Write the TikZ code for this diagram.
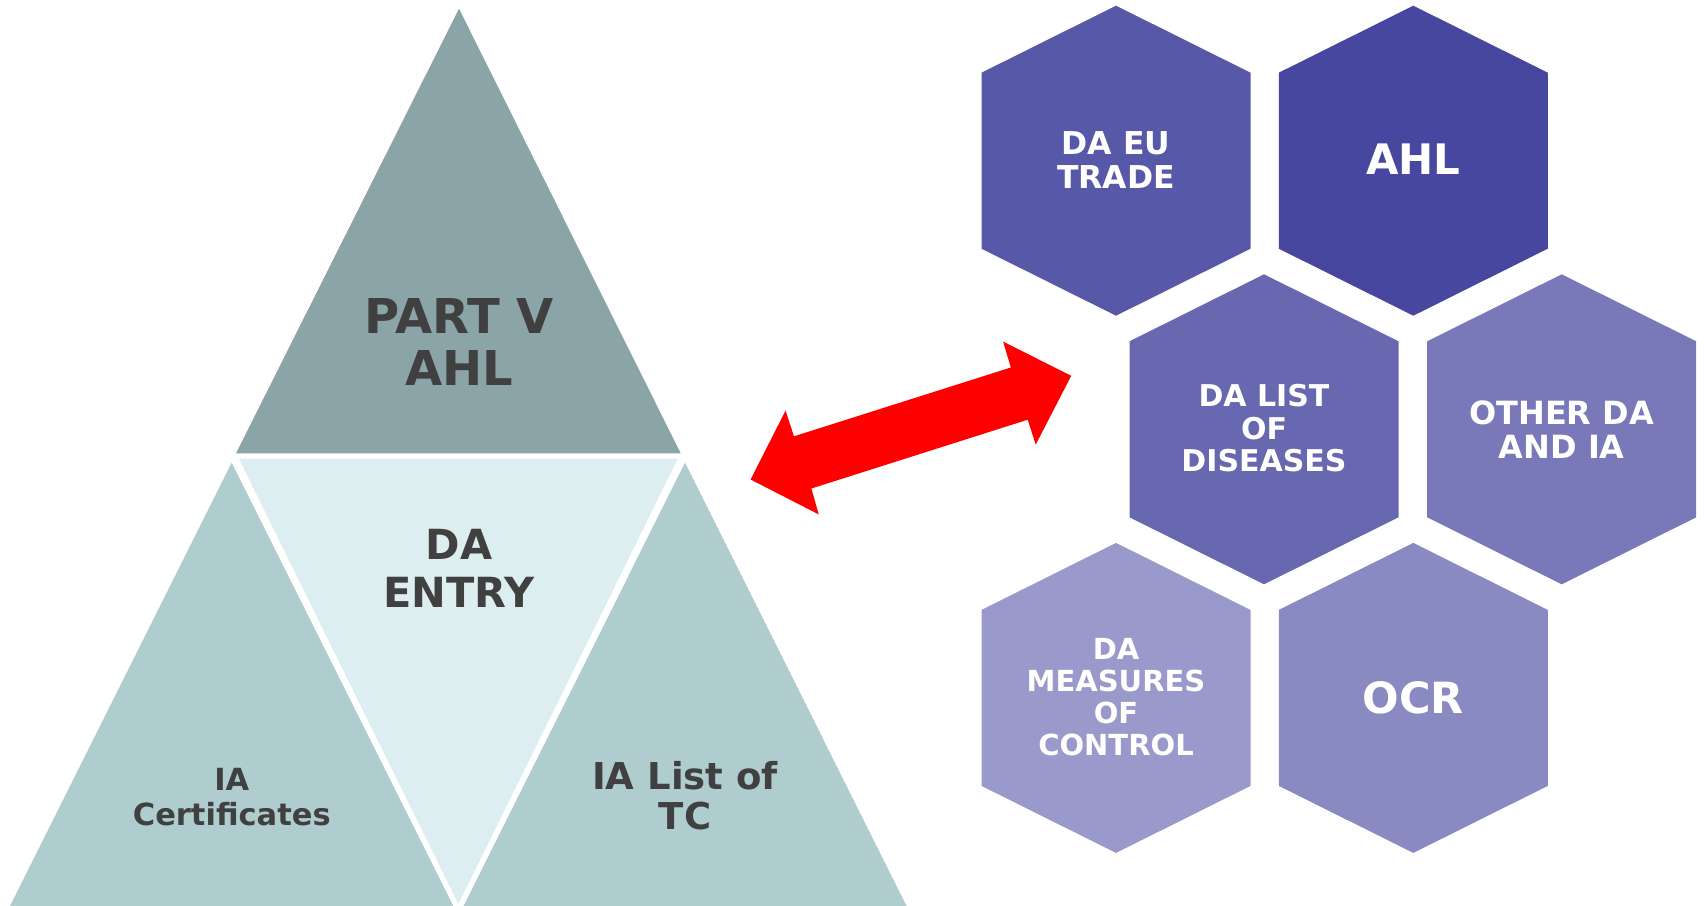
\documentclass[tikz,border=0pt]{standalone}
\usepackage{fontspec}
\setmainfont{DejaVu Sans}
\definecolor{triTop}{HTML}{8BA4A7}
\definecolor{triSide}{HTML}{AFCDCF}
\definecolor{triMid}{HTML}{DDEEF0}
\definecolor{txtDark}{HTML}{404040}
\definecolor{hexA}{HTML}{5858A9}
\definecolor{hexB}{HTML}{4747A0}
\definecolor{hexC}{HTML}{6868B1}
\definecolor{hexD}{HTML}{7978B9}
\definecolor{hexE}{HTML}{9A99CB}
\definecolor{hexF}{HTML}{8A8AC2}
\definecolor{arrowRed}{HTML}{FF0000}
\newcommand\hexcell[3]{%
  \fill[#3] (#1,#2) ++(0,-155) -- ++(134.5,67) -- ++(0,176) -- ++(-134.5,67)
    -- ++(-134.5,-67) -- ++(0,-176) -- cycle;}
\newcommand\fs[2]{\fontsize{#1}{#2}\selectfont\bfseries}
\tikzset{
  tritext/.style={text=txtDark, align=center, inner sep=0pt, anchor=center},
  hextext/.style={text=white, align=center, inner sep=0pt, anchor=center},
}
\begin{document}
\begin{tikzpicture}[x=1pt,y=-1pt]
\useasboundingbox (0,0) rectangle (1705,905);
\begin{scope}
\clip (0,0) rectangle (1705,905);
% triangle pyramid
\fill[triTop] (459,8.7) -- (680.7,453.3) -- (236,453.3) -- cycle;
\fill[triMid] (236,458.7) -- (680.7,458.7) -- (458.4,910) -- cycle;
\fill[triSide] (231.7,462.7) -- (458.3,916) -- (5,916) -- cycle;
\fill[triSide] (685,462.7) -- (911.6,916) -- (458.4,916) -- cycle;
\draw[white, line width=5] (236,458.7) -- (458.4,910) -- (680.7,458.7);
\end{scope}
\node[tritext, font=\fs{48}{52}] (partv) at (459,342) {PART V\\AHL};
\node[tritext, font=\fs{41.5}{47.3}] (daentry) at (459,568.4) {DA\\ENTRY};
\node[tritext, font=\fs{30.5}{35.6}] (iacert) at (231.8,797) {IA\\Certificates};
\node[tritext, font=\fs{37}{40.3}] (ialist) at (685,796) {IA List of\\TC};
% red double arrow
\fill[arrowRed] (750.6,479.5) -- (785.5,410.7) -- (794,436.3) -- (1010.8,367.5)
  -- (1003.1,341.6) -- (1071.2,375.8) -- (1035.7,444.6) -- (1027.7,419.7)
  -- (811.4,488.5) -- (818.7,514.4) -- cycle;
% hexagons
\hexcell{1116}{160.7}{hexA}
\hexcell{1413.3}{160.7}{hexB}
\hexcell{1264}{429.3}{hexC}
\hexcell{1561.7}{429.3}{hexD}
\hexcell{1116}{697.9}{hexE}
\hexcell{1413.3}{697.9}{hexF}
\node[hextext, font=\fs{31.5}{33.5}] (h1) at (1116,160) {DA EU\\TRADE};
\node[hextext, font=\fs{42}{46}] (h2) at (1413.3,158.7) {AHL};
\node[hextext, font=\fs{30}{32.6}] (h3) at (1264,428.3) {DA LIST\\OF\\DISEASES};
\node[hextext, font=\fs{32}{34.7}] (h4) at (1561.7,429.7) {OTHER DA\\AND IA};
\node[hextext, font=\fs{29}{32.2}] (h5) at (1116,697.2) {DA\\MEASURES\\OF\\CONTROL};
\node[hextext, font=\fs{43}{46}] (h6) at (1413.3,697.4) {OCR};
\end{tikzpicture}
\end{document}
